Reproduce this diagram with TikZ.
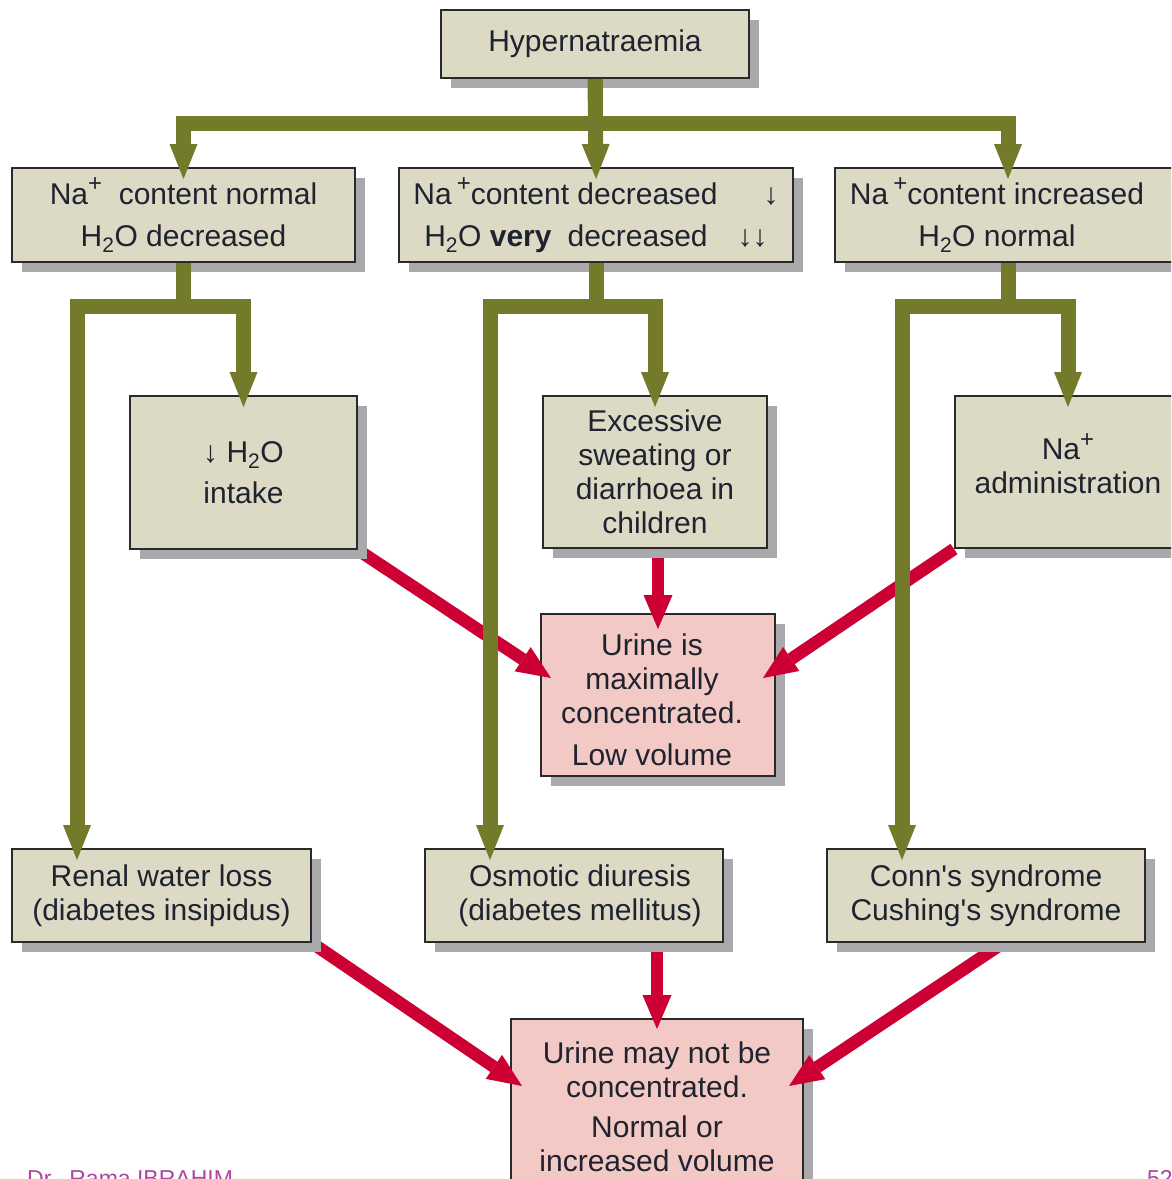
\documentclass[tikz,border=0pt]{standalone}
\usepackage{fontspec}
\setmainfont{Liberation Sans}
\usetikzlibrary{arrows.meta,shadows}
\definecolor{tanfill}{HTML}{DCDAC4}
\definecolor{pinkfill}{HTML}{F2C9C4}
\definecolor{olivec}{HTML}{737B2A}
\definecolor{redc}{HTML}{CC0033}
\definecolor{shade}{HTML}{A9A9AB}
\definecolor{boxline}{HTML}{2A2A2A}
\definecolor{txt}{HTML}{1F2330}
\definecolor{footc}{HTML}{B2449F}
\pgfdeclarelayer{bglayer}
\pgfdeclarelayer{pinklayer}
\pgfdeclarelayer{redlayer}
\pgfsetlayers{bglayer,pinklayer,redlayer,main}
\newcommand{\plussup}{\raisebox{0.42em}{\fontsize{24}{24}\selectfont +}}
\begin{document}
\begin{tikzpicture}[x=1pt,y=-1pt,
  box/.style={draw=boxline, line width=2pt, align=center, inner sep=0pt, text=txt,
    font=\fontsize{30}{34}\selectfont,
    drop shadow={shadow xshift=10pt, shadow yshift=-10pt, fill=shade, opacity=1, draw=none}},
  tanbox/.style={box, fill=tanfill},
  pinkbox/.style={box, fill=pinkfill},
  boxtext/.style={align=center, inner sep=0pt, text=txt, font=\fontsize{30}{34}\selectfont},
  garrow/.style={draw=olivec, line width=15pt,
    -{Triangle[length=35pt,width=28pt,line width=0pt]}, shorten >=-12pt},
  rarrow/.style={draw=redc, line width=12.5pt,
    -{Triangle[length=34pt,width=29pt,line width=0pt]}},
  footer/.style={text=footc, font=\fontsize{23}{26}\selectfont, inner sep=0pt}]
\useasboundingbox (0,0) rectangle (1171,1179);
\begin{pgfonlayer}{bglayer}
\fill[white] (0,0) rectangle (1171,1179);
\end{pgfonlayer}
\clip (0,0) rectangle (1171,1179);

% tan boxes
\node[tanbox, minimum width=308pt, minimum height=68pt] (top) at (595,44) {Hypernatraemia};
\node[tanbox, minimum width=343pt, minimum height=94pt] (A) at (183.5,215)
  {Na\plussup\ \ content normal\\[8pt]H\textsubscript{2}O decreased};
\node[tanbox, minimum width=394pt, minimum height=94pt] (B) at (596,215)
  {Na\,\plussup content decreased\hspace{46pt}↓\\[8pt]H\textsubscript{2}O \textbf{very}\hspace{16pt}decreased\hspace{30pt}↓↓};
\node[tanbox, minimum width=346pt, minimum height=94pt] (C) at (1008,215) {};
\node[boxtext] (Ctext) at (997,215)
  {Na\,\plussup content increased\\[8pt]H\textsubscript{2}O normal};
\node[tanbox, minimum width=227pt, minimum height=153pt] (D) at (243.5,472.5)
  {↓ H\textsubscript{2}O\\[7pt]intake};
\node[tanbox, minimum width=224pt, minimum height=152pt] (E) at (655,472)
  {Excessive\\sweating or\\diarrhoea in\\children};
\node[tanbox, minimum width=226pt, minimum height=152pt] (F) at (1068,472)
  {Na\plussup\\administration\\[-17pt]\mbox{}};
\node[tanbox, minimum width=299pt, minimum height=93pt] (H) at (161.5,895.5)
  {Renal water loss\\(diabetes insipidus)};
\node[tanbox, minimum width=298pt, minimum height=93pt] (I) at (574,895.5)
  {\hspace*{12pt}Osmotic diuresis\\\hspace*{12pt}(diabetes mellitus)};
\node[tanbox, minimum width=318pt, minimum height=93pt] (J) at (986,895.5)
  {Conn\textquotesingle s syndrome\\Cushing\textquotesingle s syndrome};

% pink boxes
\begin{pgfonlayer}{pinklayer}
\node[pinkbox, minimum width=234pt, minimum height=162pt] (G) at (658,695) {};
\node[boxtext] (Gtext) at (652,700)
  {Urine is\\maximally\\concentrated.\\[8pt]Low volume};
\node[pinkbox, minimum width=292pt, minimum height=176pt] (K) at (657,1107)
  {Urine may not be\\concentrated.\\[6pt]Normal or\\increased volume};
\end{pgfonlayer}

% red arrows
\begin{pgfonlayer}{redlayer}
\draw[rarrow] (D.south east) -- ([xshift=11pt,yshift=17pt]G.west);
\draw[rarrow] (E.south -| G.north) -- ([yshift=-16pt]G.north);
\draw[rarrow] (F.south west) -- ([xshift=-13pt,yshift=17pt]G.east);
\draw[rarrow] (H.south east) -- ([xshift=12pt,yshift=21pt]K.west);
\draw[rarrow] (I.south -| K.north) -- ([yshift=-11pt]K.north);
\draw[rarrow] ([xshift=17pt]J.south) -- ([xshift=-15pt,yshift=21pt]K.east);
\end{pgfonlayer}

% green connectors
\draw[garrow] (top.south) -- ++(0,44) -| (A.north);
\draw[garrow] (top.south) -- (B.north);
\draw[garrow] (top.south) -- ++(0,44) -| (C.north);
\draw[garrow] (A.south) -- ++(0,43) -| (D.north);
\draw[garrow] (A.south) -- ++(0,43) -| ([xshift=66pt]H.north west);
\draw[garrow] (B.south) -- ++(0,43) -| (E.north);
\draw[garrow] (B.south) -- ++(0,43) -| ([xshift=66pt]I.north west);
\draw[garrow] (C.south) -- ++(0,43) -| (F.north);
\draw[garrow] (C.south) -- ++(0,43) -| ([xshift=76pt]J.north west);

% footer
\node[footer, anchor=base west] (author) at (27,1186) {Dr.\ \ Rama IBRAHIM};
\node[footer, anchor=base west] (page) at (1147,1186) {52};
\end{tikzpicture}
\end{document}
